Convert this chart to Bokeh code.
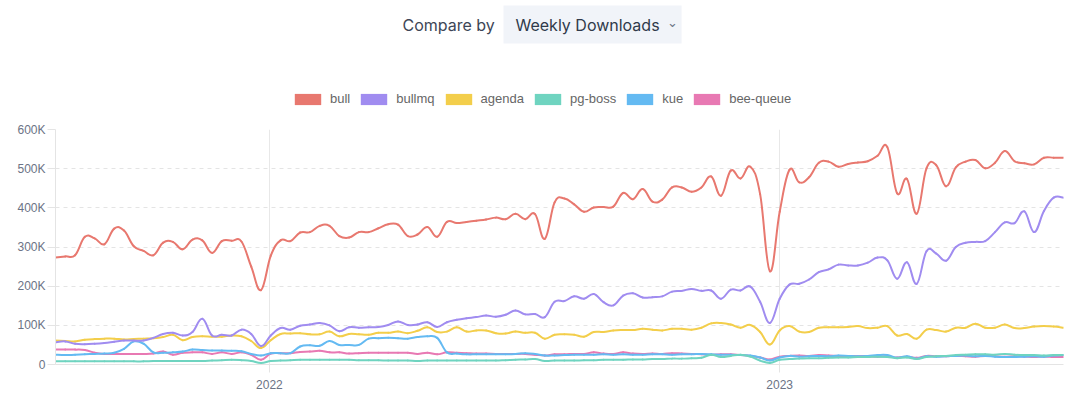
import pandas as pd
from bokeh.plotting import figure
from bokeh.layouts import column
from bokeh.models import (Range1d, FixedTicker, DatetimeTickFormatter, Label, Legend,
                          LegendItem, ColumnDataSource)
from bokeh.embed import file_html
from bokeh.resources import INLINE

# ---------------- data (weekly downloads, in thousands) ----------------
first_week = "2021-08-01"
n_weeks = 104
dates = pd.date_range(first_week, periods=n_weeks, freq="7D")

packages = ["bull", "bullmq", "agenda", "pg-boss", "kue", "bee-queue"]
colors = ["#e8786f", "#a08cf0", "#f3ce4b", "#6fd4c0", "#64baf2", "#e879b3"]

bull = [273, 276, 279, 326, 322, 307, 347, 342, 302, 290,
        279, 311, 313, 294, 319, 317, 285, 315, 316, 314,
        250, 190, 278, 317, 315, 337, 338, 354, 354, 328,
        324, 338, 338, 348, 358, 357, 328, 332, 351, 326,
        364, 361, 364, 367, 370, 375, 371, 385, 371, 384,
        321, 414, 424, 409, 390, 401, 402, 403, 438, 422,
        448, 416, 421, 452, 452, 441, 452, 480, 431, 495,
        475, 505, 435, 238, 390, 497, 465, 478, 515, 518,
        505, 512, 516, 519, 533, 555, 437, 474, 385, 501,
        509, 455, 503, 518, 522, 501, 515, 545, 519, 514,
        511, 528, 528, 528]

bullmq = [57, 59, 53, 52, 53, 55, 58, 61, 61, 61,
          68, 78, 81, 74, 83, 117, 74, 76, 74, 89,
          78, 47, 74, 93, 89, 99, 102, 106, 100, 85,
          95, 94, 95, 96, 101, 110, 101, 102, 108, 96,
          108, 114, 118, 121, 125, 122, 127, 138, 128, 129,
          121, 160, 162, 174, 168, 180, 159, 151, 176, 182,
          171, 172, 174, 186, 188, 193, 188, 189, 168, 191,
          189, 199, 160, 106, 168, 204, 206, 217, 236, 243,
          255, 253, 253, 260, 273, 266, 219, 261, 206, 289,
          283, 265, 300, 311, 313, 315, 338, 363, 361, 391,
          338, 392, 426, 426]

agenda = [61, 60, 59, 63, 65, 66, 66, 64, 65, 66,
          67, 70, 76, 62, 70, 72, 71, 71, 74, 72,
          60, 42, 62, 78, 79, 80, 77, 77, 84, 72,
          78, 77, 76, 81, 81, 84, 80, 86, 95, 83,
          84, 95, 84, 87, 87, 80, 79, 84, 81, 81,
          66, 76, 77, 76, 71, 83, 83, 87, 88, 88,
          91, 89, 87, 91, 91, 89, 94, 105, 106, 102,
          94, 101, 83, 51, 87, 98, 84, 83, 94, 95,
          95, 96, 98, 93, 94, 98, 74, 78, 66, 89,
          88, 84, 94, 94, 104, 94, 94, 102, 93, 93,
          97, 98, 97, 94]

pg_boss = [8, 8, 8, 8, 8, 8, 8, 8, 8, 8,
           9, 9, 9, 9, 9, 9, 10, 11, 12, 11,
           9, 4, 9, 10, 11, 12, 12, 12, 12, 12,
           12, 11, 11, 11, 10, 10, 10, 9, 10, 10,
           10, 10, 10, 10, 10, 10, 11, 12, 13, 14,
           9, 10, 10, 10, 11, 11, 12, 12, 12, 13,
           13, 14, 14, 15, 15, 16, 17, 25, 19, 22,
           25, 20, 10, 4, 12, 14, 15, 16, 16, 17,
           18, 18, 19, 19, 20, 19, 16, 18, 14, 19,
           21, 22, 24, 25, 26, 26, 25, 27, 25, 24,
           24, 23, 24, 24]

kue = [25, 24, 25, 26, 27, 28, 30, 40, 59, 53,
       31, 30, 31, 33, 38, 37, 36, 36, 35, 34,
       27, 23, 29, 29, 29, 46, 49, 48, 60, 50,
       50, 50, 66, 67, 68, 67, 66, 70, 72, 68,
       31, 28, 26, 26, 26, 26, 26, 27, 29, 27,
       23, 23, 24, 25, 25, 25, 26, 25, 26, 25,
       25, 26, 26, 25, 26, 26, 27, 26, 25, 25,
       24, 23, 18, 10, 18, 22, 20, 21, 22, 21,
       23, 22, 21, 22, 24, 24, 17, 21, 15, 21,
       20, 21, 22, 23, 21, 22, 20, 19, 19, 20,
       21, 20, 23, 24]

bee_queue = [38, 38, 38, 37, 30, 27, 27, 27, 27, 27,
             28, 33, 25, 30, 31, 31, 27, 31, 27, 31,
             25, 12, 28, 29, 29, 32, 33, 35, 31, 31,
             28, 29, 30, 30, 30, 30, 30, 27, 30, 26,
             31, 30, 29, 28, 28, 27, 27, 27, 27, 25,
             23, 26, 26, 27, 27, 31, 28, 27, 31, 28,
             27, 28, 27, 29, 28, 27, 26, 25, 26, 26,
             24, 22, 18, 13, 20, 22, 23, 22, 24, 23,
             22, 21, 22, 21, 20, 21, 18, 20, 17, 22,
             21, 21, 22, 21, 20, 22, 21, 20, 21, 20,
             19, 20, 19, 19]

series = [bull, bullmq, agenda, pg_boss, kue, bee_queue]

y_ticks = [0, 100000, 200000, 300000, 400000, 500000, 600000]
y_tick_labels = ["0", "100K", "200K", "300K", "400K", "500K", "600K"]
x_tick_years = ["2022-01-01", "2023-01-01"]

W = 1080
HEAD_H = 115
FRAME_LEFT = 55   # header frame is aligned with the chart frame by the column layout

# ---------------- header figure: selector + legend ----------------
head = figure(width=W, height=HEAD_H, output_backend="svg", toolbar_location=None,
              x_range=Range1d(0, W), y_range=Range1d(0, HEAD_H),
              x_axis_type=None, y_axis_type=None, min_border=0)
head.outline_line_color = None
head.xgrid.visible = False
head.ygrid.visible = False
head.background_fill_color = "white"
head.border_fill_color = "white"

head.add_layout(Label(x=402 - FRAME_LEFT, y=90.5, x_units="screen", y_units="screen",
                      text="Compare by", text_font="Inter", text_font_size="16px",
                      text_color="#3d4656", text_baseline="middle", text_align="left"))
head.add_layout(Label(x=503 - FRAME_LEFT, y=91, x_units="screen", y_units="screen",
                      text="Weekly Downloads", text_font="Inter", text_font_size="16px",
                      text_color="#2f3a4a", text_baseline="middle", text_align="left",
                      background_fill_color="#f1f4f9",
                      padding=dict(left=12, right=22, top=9, bottom=9)))
head.add_layout(Label(x=672 - FRAME_LEFT, y=93, x_units="screen", y_units="screen", text="⌄",
                      text_font="DejaVu Sans", text_font_size="13px", text_color="#6b7385",
                      text_baseline="middle", text_align="center"))

# legend swatches: one hidden (off-range) box per package so the legend can draw filled icons
items = []
for name, col in zip(packages, colors):
    src = ColumnDataSource(dict(left=[-60], right=[-50], bottom=[-60], top=[-50]))
    r = head.quad(left="left", right="right", top="top", bottom="bottom", source=src,
                  fill_color=col, line_color=None)
    items.append(LegendItem(label=name, renderers=[r]))
legend = Legend(items=items, location=(291 - FRAME_LEFT, 9), orientation="horizontal",
                glyph_width=33, glyph_height=14, label_standoff=6, spacing=7,
                padding=0, margin=0, border_line_color=None, background_fill_alpha=0,
                label_text_font="Liberation Sans", label_text_font_size="13px",
                label_text_color="#666666", label_width=0, label_height=14)
head.add_layout(legend)

# ---------------- main chart ----------------
x_ms = [int(d.value // 10**6) for d in dates]
p = figure(width=W, height=398 - HEAD_H, x_axis_type="datetime",
           output_backend="svg", toolbar_location=None,
           x_range=Range1d(x_ms[0], x_ms[-1]), y_range=Range1d(0, 600000),
           min_border_left=55, min_border_right=17, min_border_top=14, min_border_bottom=34)
p.outline_line_color = None
p.background_fill_color = "white"
p.border_fill_color = "white"

x_ticker = FixedTicker(ticks=[pd.Timestamp(t).value // 10**6 for t in x_tick_years])
y_ticker = FixedTicker(ticks=y_ticks)
p.xaxis.ticker = x_ticker
p.xgrid.ticker = x_ticker
p.yaxis.ticker = y_ticker
p.ygrid.ticker = y_ticker
p.xaxis.formatter = DatetimeTickFormatter(days="%Y", months="%Y", years="%Y")
p.yaxis.major_label_overrides = dict(zip(y_ticks, y_tick_labels))

for ax in (p.xaxis[0], p.yaxis[0]):
    ax.axis_line_color = "#e4e4e4"
    ax.major_tick_line_color = "#e4e4e4"
    ax.major_tick_out = 8
    ax.major_tick_in = 0
    ax.minor_tick_out = 0
    ax.minor_tick_in = 0
    ax.major_label_text_font = "Liberation Sans"
    ax.major_label_text_font_size = "12px"
    ax.major_label_text_color = "#6b7385"
    ax.major_label_standoff = 2
p.xaxis.major_label_standoff = 7

p.ygrid.grid_line_color = "#e4e4e4"
p.ygrid.grid_line_dash = "4 4"
p.xgrid.grid_line_color = "#e8e8e8"


def smooth_segments(xs, ys, k=0.2):
    """Cubic Bezier segments through every data point (Catmull-Rom style tension)."""
    n = len(xs)
    seg = dict(x0=[], y0=[], x1=[], y1=[], cx0=[], cy0=[], cx1=[], cy1=[])
    for i in range(n - 1):
        a = max(i - 1, 0)
        b = min(i + 2, n - 1)
        seg["x0"].append(xs[i]); seg["y0"].append(ys[i])
        seg["x1"].append(xs[i + 1]); seg["y1"].append(ys[i + 1])
        seg["cx0"].append(xs[i] + (xs[i + 1] - xs[a]) * k)
        seg["cy0"].append(ys[i] + (ys[i + 1] - ys[a]) * k)
        seg["cx1"].append(xs[i + 1] - (xs[b] - xs[i]) * k)
        seg["cy1"].append(ys[i + 1] - (ys[b] - ys[i]) * k)
    return ColumnDataSource(seg)


# lines (first package drawn last so it sits on top)
for name, vals, col in reversed(list(zip(packages, series, colors))):
    src = smooth_segments(x_ms, [v * 1000 for v in vals])
    p.bezier(x0="x0", y0="y0", x1="x1", y1="y1", cx0="cx0", cy0="cy0", cx1="cx1", cy1="cy1",
             source=src, line_color=col, line_width=2, line_cap="round")

layout = column(head, p, spacing=0)
open("out.html", "w").write(file_html(layout, INLINE))
